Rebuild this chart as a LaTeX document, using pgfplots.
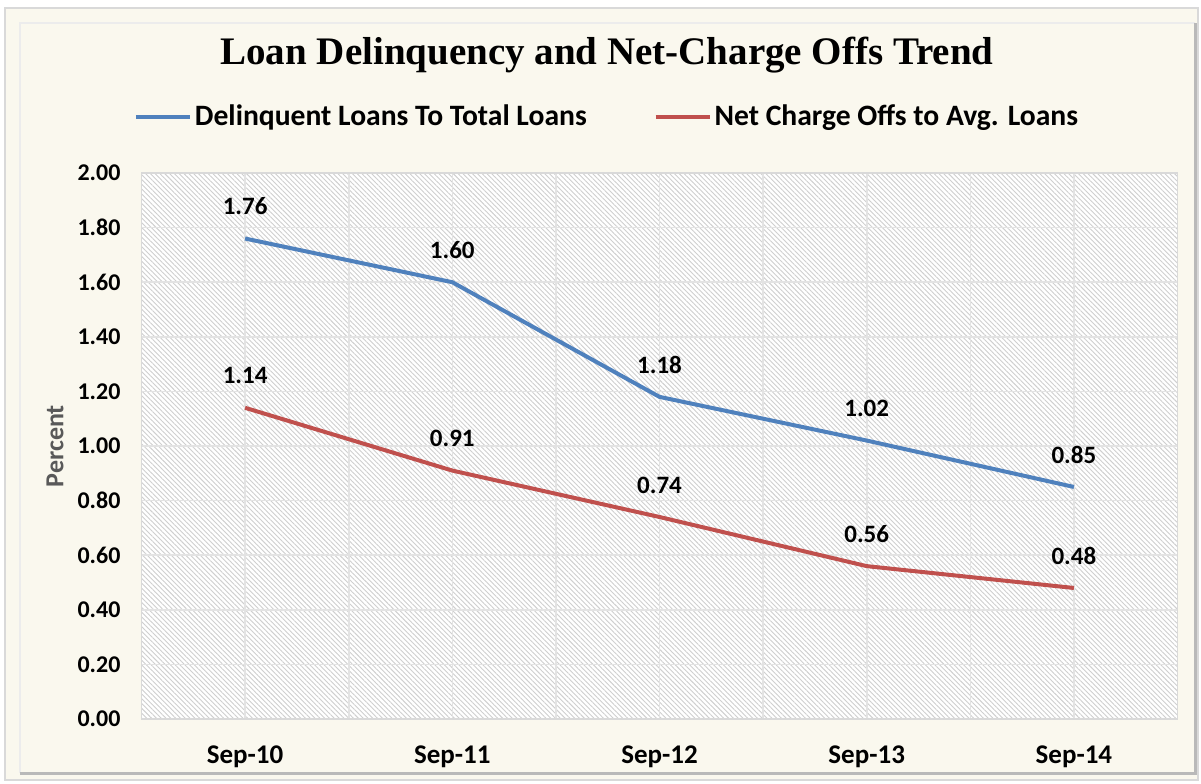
\documentclass[border=0pt]{standalone}
\usepackage{fontspec}
\setmainfont{Carlito}
\newfontfamily\titlefont{Liberation Serif}
\usepackage{pgfplots}
\pgfplotsset{compat=1.18}
\usetikzlibrary{patterns.meta}

\definecolor{cream}{RGB}{250,248,238}
\definecolor{xlblue}{RGB}{79,129,189}
\definecolor{xlred}{RGB}{192,80,77}

\begin{document}
\begin{tikzpicture}
% frame, in pixel units from the top left corner
\begin{scope}[x=0.5pt,y=-0.5pt]
  \useasboundingbox (0,0) rectangle (1201,783);
  \fill[white] (0,0) rectangle (1201,783);
  \draw[gray!30, line width=1pt, fill=cream] (5,8) rectangle (1198,780);
  \fill[cream] (20,23) rectangle (1195,773);
  \draw[gray!15, line width=1pt] (20,773) -- (20,23) -- (1195,23);
  \draw[gray!55, line width=1.5pt] (20,773) -- (1195,773) -- (1195,23);
  \node[font=\titlefont\bfseries\fontsize{19.5}{23}\selectfont] at (607,55)
    {Loan Delinquency and Net-Charge Offs Trend};
\end{scope}

\begin{axis}[
    at={(70.75pt,-359.5pt)}, anchor=south west,
    scale only axis, width=518pt, height=273pt,
    xmin=-0.5, xmax=4.5, ymin=0, ymax=2,
    xtick={0,1,2,3,4},
    xticklabels={Sep-10,Sep-11,Sep-12,Sep-13,Sep-14},
    minor xtick={-0.5,0.5,1.5,2.5,3.5,4.5},
    ytick={0,0.2,0.4,0.6,0.8,1,1.2,1.4,1.6,1.8,2},
    grid=both,
    major grid style={gray!22, line width=0.8pt},
    minor grid style={gray!22, line width=0.8pt},
    axis line style={gray!30, line width=0.8pt},
    tick style={draw=none},
    axis background/.style={fill=white,
      postaction={pattern={Lines[angle=-45,distance=1.7pt,line width=0.45pt]},
                  pattern color=gray!38}},
    yticklabel style={font=\bfseries\fontsize{12}{14}\selectfont},
    xticklabel style={font=\bfseries\fontsize{13.5}{16}\selectfont, yshift=-10pt},
    /pgf/number format/assume math mode=true,
    yticklabel style={/pgf/number format/fixed, /pgf/number format/fixed zerofill,
      /pgf/number format/precision=2, xshift=-7pt},
    ylabel={Percent},
    ylabel style={at={(axis description cs:-0.0835,0.5)}, anchor=center,
      font=\bfseries\fontsize{13}{15}\selectfont, text=gray!70!black},
    nodes near coords={\pgfmathprintnumber[fixed,fixed zerofill,precision=2,assume math mode=true]{\pgfplotspointmeta}},
    every node near coord/.append style={anchor=center, yshift=16pt,
      text=black, font=\bfseries\fontsize{12.5}{15}\selectfont},
    legend style={at={(0.4498,1.1026)}, anchor=center, draw=none, fill=none,
      legend columns=2, font=\bfseries\fontsize{14.8}{18}\selectfont,
      nodes={inner sep=1.5pt},
      /tikz/every even column/.append style={column sep=32pt}},
    legend image code/.code={\draw[#1, line width=2pt] (0pt,0pt) -- (27pt,0pt);},
]
\addplot[xlblue, line width=2pt, line join=round] coordinates {
  (0,1.76) (1,1.60) (2,1.18) (3,1.02) (4,0.85)};
\addlegendentry{Delinquent Loans To Total Loans}
\addplot[xlred, line width=2pt, line join=round] coordinates {
  (0,1.14) (1,0.91) (2,0.74) (3,0.56) (4,0.48)};
\addlegendentry{Net Charge Offs to Avg. Loans}
\end{axis}
\end{tikzpicture}
\end{document}
